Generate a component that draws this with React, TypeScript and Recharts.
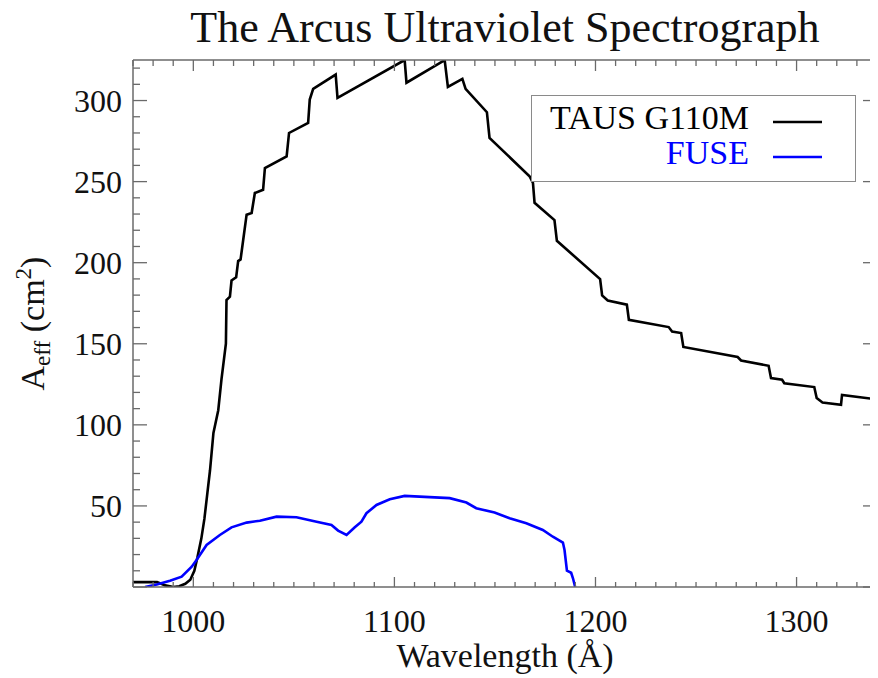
import React from 'react';
import { LineChart, Line, XAxis, YAxis, Legend } from 'recharts';

// TAUS G110M effective area (wavelength in Å, area in cm^2)
const tausWave = [970, 982, 986, 990, 993, 996, 998.5, 1000.5, 1002, 1004, 1005.5, 1007, 1008.3, 1010, 1012.4, 1014, 1016.2, 1016.5, 1018.2, 1019, 1021.3, 1022.3, 1023.5, 1024.8, 1026.5, 1029, 1030.6, 1034.7, 1035.6, 1046.4, 1047.6, 1057.1, 1057.9, 1059.6, 1070.8, 1071.7, 1105.1, 1106, 1125, 1126.6, 1133.8, 1135.4, 1146, 1147.3, 1167.2, 1168.9, 1169.7, 1179.6, 1180.8, 1202.3, 1203.3, 1206.1, 1215.6, 1216.6, 1236.4, 1238.1, 1242.6, 1243.7, 1270.7, 1272.4, 1286.1, 1287.3, 1292.8, 1293.9, 1308.8, 1310, 1312.9, 1322.1, 1322.6, 1338.6, 1339.4, 1340];
const tausArea = [3, 3, 1, 0, 0.5, 2, 4.5, 10, 18, 30, 42, 58, 72, 95, 109, 128, 150, 177, 179, 189, 191, 201, 202, 214, 229.6, 230.7, 243, 245, 258.4, 265.6, 280, 286.2, 300.6, 307.2, 316, 301.7, 325, 311, 324.9, 308.4, 313.4, 307.2, 292.8, 277, 253.3, 249.2, 236.9, 226.3, 213.5, 189.9, 179.8, 176.7, 174.1, 164.8, 160.3, 157.6, 156.6, 148, 141.8, 139.7, 136.4, 128.8, 127.8, 125.7, 123.3, 116.5, 113.8, 112.3, 118.5, 115.9, 110.3, 108];

// FUSE effective area
const fuseWave = [976, 981.8, 988.4, 994.2, 999.2, 1001.6, 1006.6, 1013.2, 1019, 1026.5, 1033.1, 1041.4, 1051.3, 1061.3, 1068.7, 1072, 1076.2, 1080.3, 1083.6, 1086.1, 1091.1, 1097.7, 1105.1, 1117.5, 1127.5, 1135.8, 1140.7, 1149.8, 1157.3, 1165.6, 1173.8, 1178.8, 1183.8, 1184.6, 1185.8, 1187.9, 1188.8, 1189.9];
const fuseArea = [0, 1.5, 3.9, 6.4, 12.5, 16.7, 25.9, 32.1, 36.8, 39.7, 40.9, 43.4, 43, 40.3, 38.3, 34.8, 32.1, 36.8, 40.3, 45.5, 50.6, 54.1, 56.2, 55.4, 54.8, 52.1, 48.6, 45.9, 42.4, 39.3, 35.2, 31, 27.4, 22.8, 10.1, 8.8, 5.4, 0];

const xDomain = [970, 1340];
const yDomain = [0, 325];
const xTicks = Array.from({ length: 38 }, (_, i) => 970 + i * 10);
const yTicks = Array.from({ length: 33 }, (_, i) => i * 10);

const chartTitle = 'The Arcus Ultraviolet Spectrograph';
const seriesNames = ['TAUS G110M', 'FUSE'];
const seriesColors = ['#000000', '#0000ff'];

const tausData = tausWave.map((x, i) => ({ x, y: tausArea[i] }));
const fuseData = fuseWave.map((x, i) => ({ x, y: fuseArea[i] }));

const FONT = '"Liberation Serif", "Times New Roman", Times, serif';
const AXIS = '#6a6a6a';

const BottomTick = (props: any) => {
  const { x, y, payload } = props;
  const v = payload.value;
  const major = v % 100 === 0;
  return (
    <g>
      <line x1={x} x2={x} y1={y} y2={y - (major ? 10 : 5)} stroke={AXIS} strokeWidth={1.3} />
      {major && (
        <text x={x} y={y + 45} textAnchor="middle" fontSize={32} style={{ fontFamily: FONT }} fill="#111">
          {v}
        </text>
      )}
    </g>
  );
};

const TopTick = (props: any) => {
  const { x, y, payload } = props;
  const major = payload.value % 100 === 0;
  return <line x1={x} x2={x} y1={y} y2={y + (major ? 11 : 6)} stroke={AXIS} strokeWidth={1.3} />;
};

const LeftTick = (props: any) => {
  const { x, y, payload } = props;
  const v = payload.value;
  const major = v % 50 === 0;
  return (
    <g>
      <line x1={x} x2={x + (major ? 14 : 7)} y1={y} y2={y} stroke={AXIS} strokeWidth={1.3} />
      {major && v > 0 && (
        <text x={x - 11} y={y + 11} textAnchor="end" fontSize={32} style={{ fontFamily: FONT }} fill="#111">
          {v}
        </text>
      )}
    </g>
  );
};

const RightTick = (props: any) => {
  const { x, y, payload } = props;
  const major = payload.value % 50 === 0;
  return <line x1={x} x2={x - (major ? 14 : 7)} y1={y} y2={y} stroke={AXIS} strokeWidth={1.3} />;
};

const LegendBox = () => (
  <svg width={325} height={87} style={{ display: 'block' }}>
    <rect x={0.5} y={0.5} width={324} height={86} fill="#fff" stroke="#8a8a8a" strokeWidth={1} />
    {seriesNames.map((name, i) => (
      <g key={name}>
        <text x={218} y={34 + i * 35} textAnchor="end" fontSize={34} style={{ fontFamily: FONT }} fill={seriesColors[i]}>
          {name}
        </text>
        <line x1={242} x2={291} y1={27 + i * 35} y2={27 + i * 35} stroke={seriesColors[i]} strokeWidth={2.5} />
      </g>
    ))}
  </svg>
);

export default function App() {
  return (
    <div style={{ marginTop: -8 }}>
      <LineChart width={870} height={678} margin={{ top: 59, right: 0, bottom: 0, left: 0 }}>
        <XAxis
          xAxisId="b"
          type="number"
          dataKey="x"
          domain={xDomain}
          allowDataOverflow
          ticks={xTicks}
          interval={0}
          tickSize={0}
          tickMargin={0}
          height={91}
          axisLine={{ stroke: AXIS, strokeWidth: 1.5 }}
          tickLine={false}
          tick={BottomTick}
          label={(p: any) => {
            const vb = p.viewBox || {};
            return (
              <text x={vb.x + vb.width / 2} y={vb.y + 80} textAnchor="middle" fontSize={34} style={{ fontFamily: FONT }} fill="#111">
                Wavelength (Å)
              </text>
            );
          }}
        />
        <XAxis
          xAxisId="t"
          orientation="top"
          type="number"
          dataKey="x"
          domain={xDomain}
          allowDataOverflow
          ticks={xTicks}
          interval={0}
          tickSize={0}
          tickMargin={0}
          height={1}
          axisLine={{ stroke: AXIS, strokeWidth: 1.5 }}
          tickLine={false}
          tick={TopTick}
          label={(p: any) => {
            const vb = p.viewBox || {};
            return (
              <text x={vb.x + vb.width / 2} y={vb.y + vb.height - 18} textAnchor="middle" fontSize={44} style={{ fontFamily: FONT }} fill="#111">
                {chartTitle}
              </text>
            );
          }}
        />
        <YAxis
          yAxisId="l"
          type="number"
          domain={yDomain}
          allowDataOverflow
          ticks={yTicks}
          interval={0}
          tickSize={0}
          tickMargin={0}
          width={125}
          axisLine={{ stroke: AXIS, strokeWidth: 1.5 }}
          tickLine={false}
          tick={LeftTick}
          label={(p: any) => {
            const vb = p.viewBox || {};
            const cx = 36;
            const cy = vb.y + vb.height / 2;
            return (
              <text x={cx} y={cy} transform={`rotate(-90, ${cx}, ${cy})`} textAnchor="middle" fontSize={34} style={{ fontFamily: FONT }} fill="#111">
                <tspan>A</tspan>
                <tspan fontSize={23} dy={6}>eff</tspan>
                <tspan dy={-6}> (cm</tspan>
                <tspan fontSize={23} dy={-13}>2</tspan>
                <tspan dy={13}>)</tspan>
              </text>
            );
          }}
        />
        <YAxis
          yAxisId="r"
          orientation="right"
          type="number"
          domain={yDomain}
          allowDataOverflow
          ticks={yTicks}
          interval={0}
          tickSize={0}
          tickMargin={0}
          width={1}
          axisLine={{ stroke: AXIS, strokeWidth: 1.5 }}
          tickLine={false}
          tick={RightTick}
        />
        <Legend
          layout="vertical"
          align="center"
          verticalAlign="middle"
          wrapperStyle={{ left: 523, top: 95, width: 325, height: 87, margin: 0, padding: 0 }}
          content={() => <LegendBox />}
        />
        <Line
          xAxisId="b"
          yAxisId="l"
          data={tausData}
          dataKey="y"
          name={seriesNames[0]}
          type="linear"
          stroke={seriesColors[0]}
          strokeWidth={2.6}
          dot={false}
          isAnimationActive={false}
        />
        <Line
          xAxisId="t"
          yAxisId="r"
          data={fuseData}
          dataKey="y"
          name={seriesNames[1]}
          type="linear"
          stroke={seriesColors[1]}
          strokeWidth={2.6}
          dot={false}
          isAnimationActive={false}
        />
      </LineChart>
    </div>
  );
}
